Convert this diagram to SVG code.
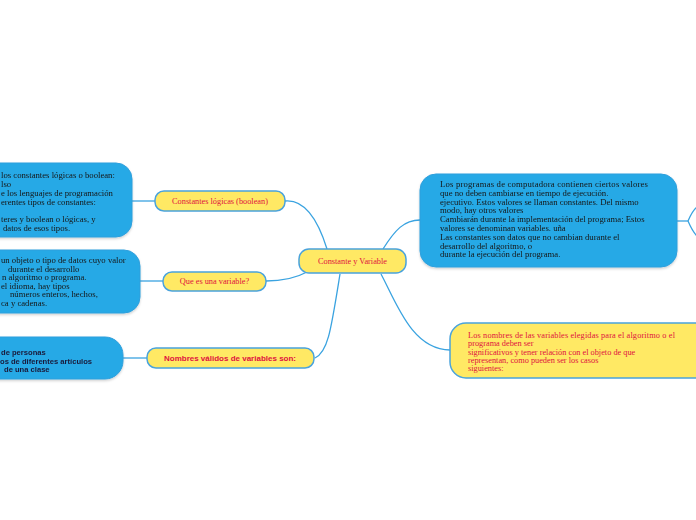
<svg xmlns="http://www.w3.org/2000/svg" width="696" height="520" viewBox="0 0 696 520">
<style>
.blue{fill:#27a9e6;stroke:#2f9fdc;stroke-width:1}
.yel{fill:#ffe964;stroke:#4aa3dc;stroke-width:1.5}
.con{fill:none;stroke:#3aa3e0;stroke-width:1.3}
.bt{font-family:"Liberation Serif",serif;font-size:8.7px;fill:#161616}
.bs{font-family:"Liberation Sans",sans-serif;font-size:7.6px;font-weight:bold;fill:#1a1a3a}
.yt{font-family:"Liberation Serif",serif;font-size:8.3px;fill:#e0103f}
.ys{font-family:"Liberation Sans",sans-serif;font-size:8px;font-weight:bold;fill:#e0103f}
</style>
<defs>
<filter id="sh" x="-10%" y="-10%" width="120%" height="130%">
<feDropShadow dx="0" dy="1.5" stdDeviation="1.2" flood-color="#000" flood-opacity="0.18"/>
</filter>
</defs>
<rect width="696" height="520" fill="#ffffff"/>
<g id="connectors">
<path class="con" d="M285,201 C305,199 318,220 327,249"/>
<path class="con" d="M266,281 C285,281 296,278 307,272"/>
<path class="con" d="M315,358 C328,352 331,330 340,274"/>
<path class="con" d="M383,249 C395,230 404,220 420,220"/>
<path class="con" d="M381,274 C396,302 412,350 450,350"/>
<path class="con" d="M132,201 H155"/>
<path class="con" d="M140,281 H163"/>
<path class="con" d="M123,358 H147"/>
<path class="con" d="M677,221 H688"/>
<path class="con" d="M688,221 C691,214 693,210 697,207"/>
<path class="con" d="M688,221 C691,228 693,232 697,236"/>
</g>
<g id="n-center">
<rect class="yel" x="299" y="249" width="107" height="24" rx="10"/>
<text class="yt" x="352.5" y="264" text-anchor="middle">Constante y Variable</text>
</g>
<g id="n-constantes">
<rect class="yel" x="155" y="191" width="130" height="20" rx="9"/>
<text class="yt" x="220" y="204" text-anchor="middle">Constantes lógicas (boolean)</text>
</g>
<g id="n-variable">
<rect class="yel" x="163" y="272" width="103" height="19" rx="9"/>
<text class="yt" x="214.5" y="284" text-anchor="middle">Que es una variable?</text>
</g>
<g id="n-nombres">
<rect class="yel" x="147" y="348" width="167" height="20" rx="9"/>
<text class="ys" x="230" y="361" text-anchor="middle">Nombres válidos de variables son:</text>
</g>
<g id="n-left1" filter="url(#sh)">
<rect class="blue" x="-30" y="163" width="162" height="74" rx="16"/>
<text class="bt" x="1" y="178" font-size="8.5">los constantes lógicas o boolean:</text>
<text class="bt" x="1" y="187" font-size="8.5">lso</text>
<text class="bt" x="1" y="195.5" font-size="8.5">e los lenguajes de programación</text>
<text class="bt" x="1" y="204.5" font-size="8.5">erentes tipos de constantes:</text>
<text class="bt" x="1" y="222" font-size="8.5">teres y boolean o lógicas, y</text>
<text class="bt" x="3" y="230.5" font-size="8.5">datos de esos tipos.</text>
</g>
<g id="n-left2" filter="url(#sh)">
<rect class="blue" x="-30" y="250" width="170" height="63" rx="16"/>
<text class="bt" x="1" y="263" font-size="8.5">un objeto o tipo de datos cuyo valor</text>
<text class="bt" x="8" y="271.5" font-size="8.5">durante el desarrollo</text>
<text class="bt" x="2" y="280" font-size="8.5">n algoritmo o programa.</text>
<text class="bt" x="1" y="288.5" font-size="8.5">el idioma, hay tipos</text>
<text class="bt" x="10" y="297" font-size="8.5">números enteros, hechos,</text>
<text class="bt" x="1" y="305.5" font-size="8.5">ca y cadenas.</text>
</g>
<g id="n-left3" filter="url(#sh)">
<rect class="blue" x="-30" y="337" width="153" height="42" rx="18"/>
<text class="bs" x="1" y="355">de personas</text>
<text class="bs" x="0" y="363.5">os de diferentes artículos</text>
<text class="bs" x="4" y="372">de una clase</text>
</g>
<g id="n-right1" filter="url(#sh)">
<rect class="blue" x="420" y="174" width="257" height="93" rx="16"/>
<text class="bt" x="440" y="187" textLength="208" lengthAdjust="spacing">Los programas de computadora contienen ciertos valores</text>
<text class="bt" x="440" y="195.8">que no deben cambiarse en tiempo de ejecución.</text>
<text class="bt" x="440" y="204.6">ejecutivo. Estos valores se llaman constantes. Del mismo</text>
<text class="bt" x="440" y="213.4">modo, hay otros valores</text>
<text class="bt" x="440" y="222.2">Cambiarán durante la implementación del programa; Estos</text>
<text class="bt" x="440" y="231">valores se denominan variables. uña</text>
<text class="bt" x="440" y="239.8">Las constantes son datos que no cambian durante el</text>
<text class="bt" x="440" y="248.6">desarrollo del algoritmo, o</text>
<text class="bt" x="440" y="257.4">durante la ejecución del programa.</text>
</g>
<g id="n-right2">
<rect class="yel" x="450" y="323" width="270" height="55" rx="16"/>
<text class="yt" x="468" y="337.5" textLength="207" lengthAdjust="spacing">Los nombres de las variables elegidas para el algoritmo o el</text>
<text class="yt" x="468" y="345.5">programa deben ser</text>
<text class="yt" x="468" y="354.5">significativos y tener relación con el objeto de que</text>
<text class="yt" x="468" y="362.5">representan, como pueden ser los casos</text>
<text class="yt" x="468" y="371">siguientes:</text>
</g>
</svg>
